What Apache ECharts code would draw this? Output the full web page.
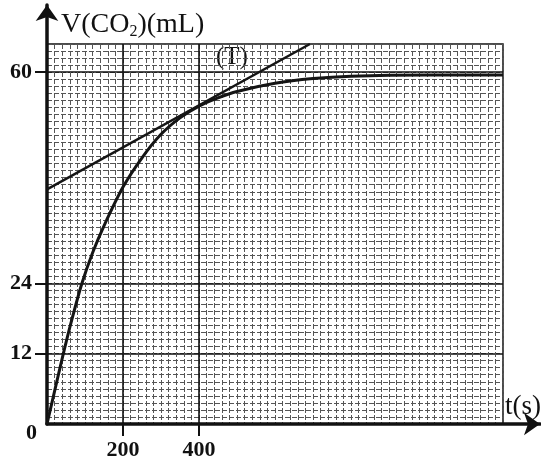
<!DOCTYPE html>
<html>
<head>
<meta charset="utf-8">
<script src="https://cdn.jsdelivr.net/npm/echarts@6/dist/echarts.min.js"></script>
<style>
html,body{margin:0;padding:0;background:#fff;}
#c{width:541px;height:461px;}
</style>
</head>
<body>
<div id="c"></div>
<script>
// Data
const curveT = [0, 20, 43, 65, 92, 120, 150, 200, 250, 300, 350, 400, 450, 500, 600, 700, 800, 1000, 1200];
const curveV = [0, 5.6, 12, 17.7, 24, 29.2, 33.8, 40.4, 45.4, 49.4, 52.2, 54.2, 55.6, 56.7, 58.1, 58.9, 59.3, 59.5, 59.5];
const tangentT = [0, 692];
const tangentV = [40, 64.8];
const xTickLabels = [200, 400];
const yTickLabels = [12, 24, 60];

const SERIF = '"Liberation Serif", "DejaVu Serif", serif';
const chart = echarts.init(document.getElementById('c'));

const minorLine = {show: true, lineStyle: {color: '#555', width: 1, type: [5, 2]}};
const majorLine = {show: true, lineStyle: {color: '#111', width: 1.6}};
const none = {show: false};

chart.setOption({
  animation: false,
  backgroundColor: '#fff',
  title: {
    left: 56, top: 5,
    text: '{a|V(CO}{s|2}{a|)(mL)}',
    textStyle: {
      fontWeight: 'normal',
      rich: {
        a: {fontFamily: SERIF, fontSize: 28, fontWeight: 'normal', color: '#111'},
        s: {fontFamily: SERIF, fontSize: 16, fontWeight: 'normal', color: '#111', padding: [14, 0, 0, 0]}
      }
    }
  },
  grid: [
    {left: 47, top: 44, width: 456, height: 380, show: true, borderColor: '#111', borderWidth: 1.5, backgroundColor: 'transparent'},
    {left: 47, top: 5, right: 1, bottom: 37}
  ],
  xAxis: [
    {type: 'value', gridIndex: 0, position: 'top', min: 0, max: 1200, interval: 20, axisLine: none, axisTick: none, axisLabel: none, splitLine: minorLine},
    {type: 'value', gridIndex: 0, position: 'bottom', min: 0, max: 1200, interval: 200, axisLine: none,
      axisTick: {show: true, inside: false, length: 12, customValues: xTickLabels, lineStyle: {color: '#111', width: 2}},
      axisLabel: {show: true, customValues: xTickLabels, margin: 15, fontFamily: SERIF, fontWeight: 'bold', fontSize: 22, color: '#111'},
      splitLine: majorLine},
    {type: 'value', gridIndex: 1, position: 'bottom', min: 0, max: 1,
      axisLine: {show: true, onZero: false, symbol: ['none', 'arrow'], symbolSize: [17, 16], lineStyle: {color: '#111', width: 3.5}},
      axisTick: none, axisLabel: none, splitLine: none}
  ],
  yAxis: [
    {type: 'value', gridIndex: 0, position: 'right', min: 0, max: 64.8, interval: 1.2, axisLine: none, axisTick: none, axisLabel: none, splitLine: minorLine},
    {type: 'value', gridIndex: 0, position: 'left', min: 0, max: 64.8, interval: 12, axisLine: none,
      axisTick: {show: true, inside: false, length: 12, customValues: yTickLabels, lineStyle: {color: '#111', width: 2}},
      axisLabel: {show: true, customValues: yTickLabels, margin: 15, fontFamily: SERIF, fontWeight: 'bold', fontSize: 22, color: '#111'},
      splitLine: majorLine},
    {type: 'value', gridIndex: 1, position: 'left', min: 0, max: 1,
      axisLine: {show: true, onZero: false, symbol: ['none', 'arrow'], symbolSize: [17, 16], lineStyle: {color: '#111', width: 3.5}},
      axisTick: none, axisLabel: none, splitLine: none}
  ],
  graphic: [
    {type: 'text', left: 26, top: 422, style: {text: '0', font: 'bold 22px ' + SERIF, fill: '#111'}},
    {type: 'text', left: 216, top: 45, style: {text: '(T)', font: '25px ' + SERIF, fill: '#111'}},
    {type: 'text', left: 505, top: 393, style: {text: 't(s)', font: '27px ' + SERIF, fill: '#111'}}
  ],
  series: [
    {type: 'line', xAxisIndex: 1, yAxisIndex: 1, data: curveT.map((t, i) => [t, curveV[i]]),
      smooth: 0.3, showSymbol: false, lineStyle: {color: '#151515', width: 3}, z: 5},
    {type: 'line', xAxisIndex: 1, yAxisIndex: 1, data: tangentT.map((t, i) => [t, tangentV[i]]),
      showSymbol: false, lineStyle: {color: '#151515', width: 2.5}, z: 5}
  ]
});
</script>
</body>
</html>
